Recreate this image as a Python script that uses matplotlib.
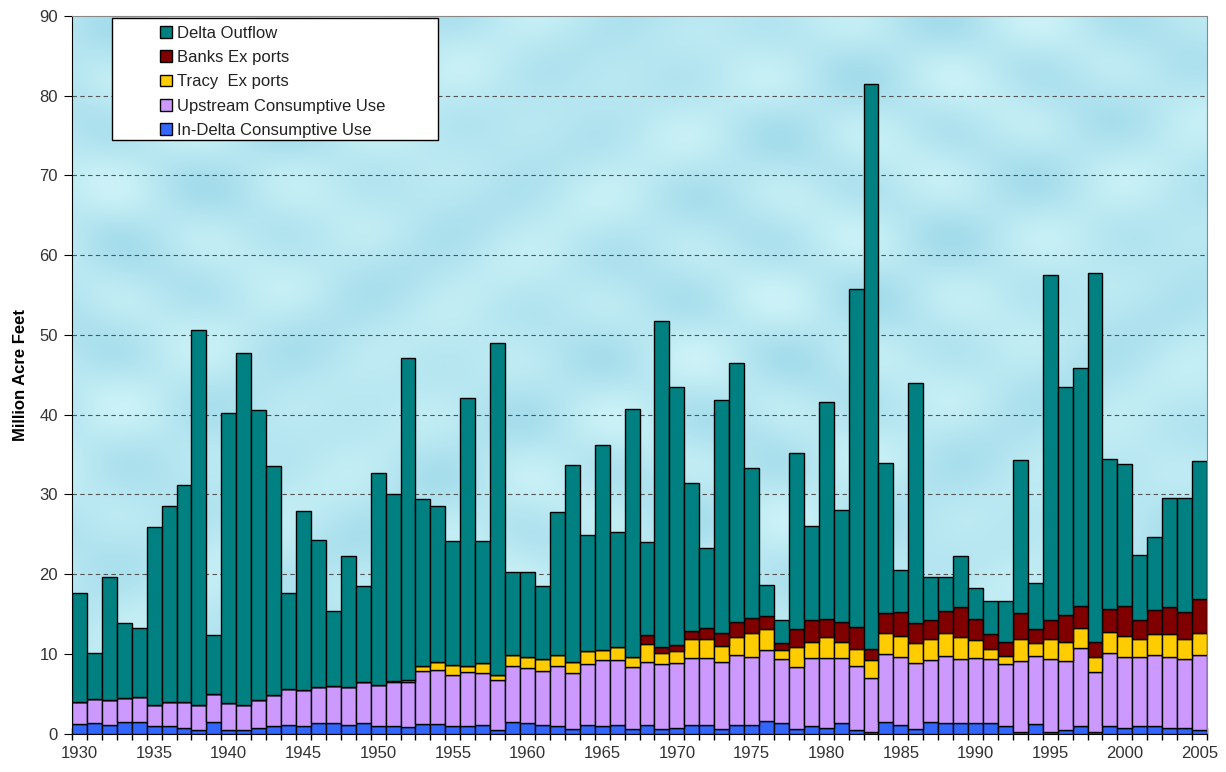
import numpy as np
import matplotlib.pyplot as plt
from matplotlib.patches import Rectangle

years = list(range(1930, 2006))

in_delta = [1.2, 1.3, 1.1, 1.4, 1.4, 0.9, 1.0, 0.75, 0.5, 1.5,
            0.5, 0.5, 0.75, 1.0, 1.1, 1.0, 1.3, 1.3, 1.1, 1.3,
            1.0, 1.0, 0.8, 1.2, 1.2, 1.0, 1.0, 1.1, 0.5, 1.5,
            1.3, 1.1, 1.0, 0.6, 1.1, 1.0, 1.1, 0.6, 1.1, 0.6,
            0.75, 1.1, 1.1, 0.6, 1.1, 1.1, 1.6, 1.3, 0.6, 1.0,
            0.75, 1.3, 0.4, 0.2, 1.5, 1.1, 0.6, 1.5, 1.3, 1.3,
            1.3, 1.3, 1.0, 0.2, 1.2, 0.2, 0.4, 1.0, 0.2, 1.0,
            0.75, 1.0, 1.0, 0.75, 0.75, 0.5]

upstream = [2.8, 3.0, 3.1, 3.1, 3.2, 2.7, 2.9, 3.15, 3.1, 3.5,
            3.3, 3.1, 3.45, 3.8, 4.5, 4.4, 4.5, 4.7, 4.7, 5.2,
            5.1, 5.4, 5.6, 6.6, 6.8, 6.4, 6.7, 6.5, 6.2, 7.0,
            6.9, 6.8, 7.5, 7.0, 7.6, 8.2, 8.1, 7.7, 7.9, 8.1,
            8.15, 8.4, 8.4, 8.4, 8.7, 8.5, 8.9, 8.1, 7.7, 8.5,
            8.75, 8.2, 8.1, 6.7, 8.5, 8.5, 8.3, 7.7, 8.4, 8.0,
            8.2, 8.0, 7.7, 8.9, 8.5, 9.1, 8.7, 9.7, 7.5, 9.1,
            8.85, 8.6, 8.9, 8.85, 8.55, 9.4]

tracy = [0, 0, 0, 0, 0, 0, 0, 0, 0, 0,
         0, 0, 0, 0, 0, 0, 0, 0, 0, 0,
         0, 0.2, 0.3, 0.7, 1.0, 1.2, 0.8, 1.3, 0.7, 1.3,
         1.4, 1.5, 1.3, 1.4, 1.6, 1.3, 1.6, 1.3, 2.2, 1.4,
         1.5, 2.3, 2.3, 2.0, 2.3, 3.0, 2.6, 1.1, 2.5, 2.0,
         2.6, 2.0, 2.1, 2.3, 2.6, 2.6, 2.4, 2.7, 2.9, 2.8,
         2.2, 1.3, 1.0, 2.8, 1.6, 2.6, 2.4, 2.5, 1.9, 2.6,
         2.6, 2.2, 2.6, 2.9, 2.6, 2.7]

banks = [0] * 38 + [
         1.2, 0.7,
         0.7, 1.0, 1.4, 1.6, 1.9, 1.9, 1.6, 0.9, 2.3, 2.7,
         2.3, 2.5, 2.8, 1.4, 2.5, 3.1, 2.6, 2.3, 2.8, 3.8,
         2.7, 1.9, 1.8, 3.2, 1.8, 2.3, 3.4, 2.8, 1.9, 2.9,
         3.8, 2.4, 3.0, 3.4, 3.3, 4.3]

outflow = [13.6, 5.8, 15.4, 9.3, 8.6, 22.3, 24.6, 27.3, 47.0, 7.3,
           36.4, 44.1, 36.4, 28.8, 12.0, 22.5, 18.5, 9.4, 16.5, 12.0,
           26.6, 23.4, 40.4, 20.9, 19.5, 15.6, 33.6, 15.3, 41.6, 10.5,
           10.7, 9.1, 18.0, 24.7, 14.6, 25.7, 14.5, 31.1, 11.6, 41.0,
           32.4, 18.6, 10.1, 29.2, 32.5, 18.8, 3.9, 2.8, 22.1, 11.8,
           27.2, 14.0, 42.4, 70.9, 18.8, 5.2, 30.1, 5.4, 4.2, 6.4,
           3.8, 4.1, 5.1, 19.2, 5.8, 43.3, 28.6, 29.9, 46.3, 18.8,
           17.8, 8.2, 9.1, 13.6, 14.3, 17.3]

series = [
    ("In-Delta Consumptive Use", in_delta, "#3366ff"),
    ("Upstream Consumptive Use", upstream, "#cc99ff"),
    ("Tracy  Ex ports", tracy, "#ffcc00"),
    ("Banks Ex ports", banks, "#800000"),
    ("Delta Outflow", outflow, "#008080"),
]

plt.rcParams['font.family'] = ['Liberation Sans', 'DejaVu Sans']

fig = plt.figure(figsize=(12.26, 7.72), dpi=100)
ax = fig.add_axes([72 / 1226, 1 - 733.5 / 772, (1207 - 72) / 1226, (733.5 - 16) / 772])

# water-ish background
gy, gx = np.mgrid[0:200, 0:300]
tex = (np.sin(gx / 7.0) * np.cos(gy / 5.0) + 0.6 * np.sin((gx + gy) / 11.0)
       + 0.4 * np.cos((gx - 2 * gy) / 9.0))
tex = (tex - tex.min()) / (tex.max() - tex.min())
c1 = np.array([0.80, 0.95, 0.97])
c2 = np.array([0.60, 0.84, 0.91])
bg = c1 + (c2 - c1) * tex[..., None] * 0.8
ax.imshow(bg, extent=[-0.5, 75.5, 0, 90], aspect='auto', zorder=0,
          interpolation='bilinear')

x = np.arange(len(years))
bottom = np.zeros(len(years))
handles = {}
for name, vals, col in series:
    vals = np.array(vals, dtype=float)
    h = ax.bar(x, vals, width=1.0, bottom=bottom, color=col,
               edgecolor='black', linewidth=1.0, zorder=3)
    handles[name] = h
    bottom = bottom + vals

ax.set_xlim(-0.5, 75.5)
ax.set_ylim(0, 90)
ax.set_yticks(np.arange(0, 91, 10))
for v in range(10, 90, 10):
    ax.axhline(v, color='#555555', linestyle=(0, (4, 3)), linewidth=0.8, zorder=1)

ax.set_xticks(x[::5])
ax.set_xticklabels([str(y) for y in years[::5]])
ax.set_xticks(np.arange(-0.5, 76, 1), minor=True)
ax.tick_params(axis='x', which='major', length=0, labelsize=12, pad=9)
ax.tick_params(axis='x', which='minor', direction='inout', length=8, width=1)
ax.tick_params(axis='y', direction='out', length=6, labelsize=12, pad=4)
for lab in ax.get_xticklabels() + ax.get_yticklabels():
    lab.set_color('#333333')

ax.set_ylabel('Million Acre Feet', fontsize=12, fontweight='bold', labelpad=8)

for side in ['top', 'right']:
    ax.spines[side].set_color('#888888')
ax.spines['left'].set_color('black')
ax.spines['bottom'].set_color('black')

# legend box
ax.add_patch(Rectangle((40 / 1135, (733.5 - 140) / 717.5), (438 - 112) / 1135, 122 / 717.5,
                       transform=ax.transAxes, facecolor='white', edgecolor='black',
                       linewidth=1, zorder=5))
order = ["Delta Outflow", "Banks Ex ports", "Tracy  Ex ports",
         "Upstream Consumptive Use", "In-Delta Consumptive Use"]
leg = ax.legend([handles[n] for n in order], order, loc='upper left',
                bbox_to_anchor=(78 / 1135, 1.0), frameon=False, fontsize=12,
                handlelength=0.7, handleheight=0.7, handletextpad=0.3,
                labelspacing=0.55, borderaxespad=0.2)
leg.set_zorder(6)
for t in leg.get_texts():
    t.set_color('#222222')

fig.savefig('out.png', dpi=100)
